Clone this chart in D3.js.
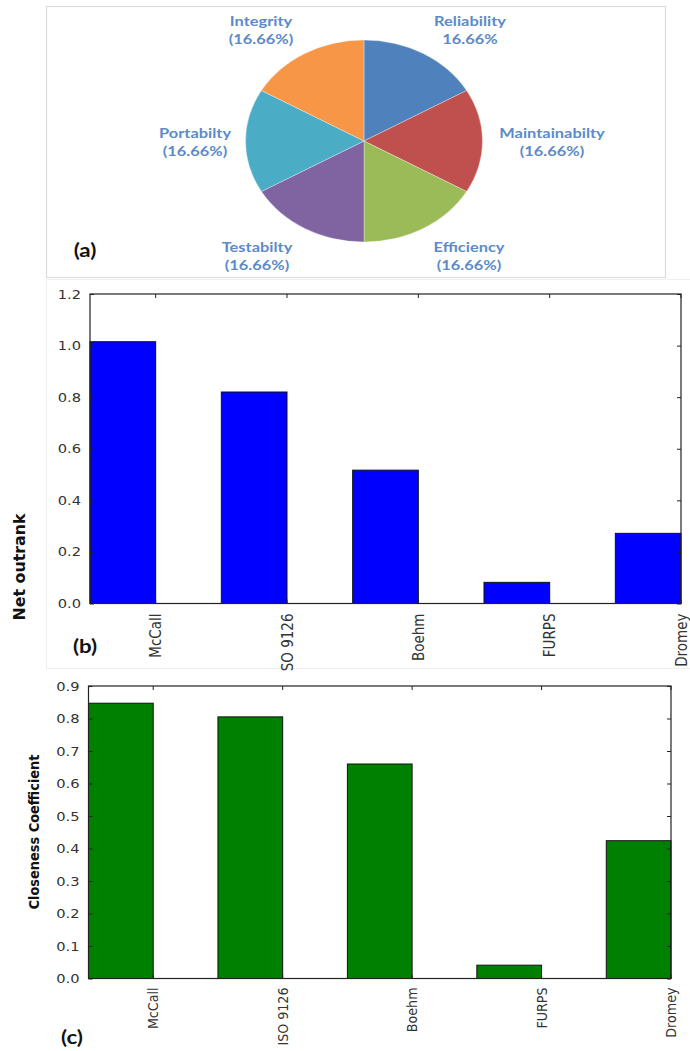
<!DOCTYPE html>
<html><head><meta charset="utf-8">
<script src="https://cdn.jsdelivr.net/npm/d3@7"></script>
<style>body{margin:0;background:#fff}</style>
</head><body><svg id="c" width="690" height="1051"></svg>
<script>
// ---------- data ----------
const pieCategories = ["Reliability","Maintainabilty","Efficiency","Testabilty","Portabilty","Integrity"];
const pieValues = [16.66,16.66,16.66,16.66,16.66,16.66];
const pieValueLabels = ["16.66%","(16.66%)","(16.66%)","(16.66%)","(16.66%)","(16.66%)"];
const pieColors = ["#4F81BD","#C0504D","#9BBB59","#8064A2","#4BACC6","#F79646"];

const netCategories = ["McCall","SO 9126","Boehm","FURPS","Dromey"];
const netOutrank = [1.015,0.82,0.517,0.082,0.272];
const netTicks = [0.0,0.2,0.4,0.6,0.8,1.0,1.2];

const ccCategories = ["McCall","ISO 9126","Boehm","FURPS","Dromey"];
const closeness = [0.847,0.805,0.66,0.041,0.424];
const ccTicks = [0.0,0.1,0.2,0.3,0.4,0.5,0.6,0.7,0.8,0.9];

// ---------- layout ----------
const SX = 1.173; // horizontal stretch of the original picture
const svg = d3.select("#c");

// panel frames
svg.append("rect").attr("x",46.5).attr("y",6.5).attr("width",619).attr("height",271)
  .attr("fill","none").attr("stroke","#dcdcdc").attr("stroke-width",1.2);
svg.append("rect").attr("x",46.5).attr("y",279.5).attr("width",700).attr("height",389)
  .attr("fill","none").attr("stroke","#efefef").attr("stroke-width",1);

// ---------- pie (a) ----------
const pieR = 101, pieCx = 364, pieCy = 141;
const pie = d3.pie().sort(null).value(d => d)(pieValues);
const arc = d3.arc().innerRadius(0).outerRadius(pieR);
const pg = svg.append("g").attr("transform",`translate(${pieCx},${pieCy}) scale(${SX},1)`);
pg.selectAll("path").data(pie).join("path")
  .attr("d",arc).attr("fill",(d,i)=>pieColors[i])
  .attr("stroke","#fff").attr("stroke-opacity",0.5).attr("stroke-width",0.6);

const labelOffsets = [[106,-111],[188,1],[105,115],[-107,115],[-169,1],[-103,-111]];
const lg = svg.append("g");
pie.forEach((d,i)=>{
  const [ox,oy] = labelOffsets[i];
  const t = lg.append("g").attr("transform",`translate(${pieCx+ox},${pieCy+oy}) scale(${SX},1)`);
  t.append("text").attr("y",-9).attr("dy","0.35em").attr("text-anchor","middle")
    .attr("font-family","Lato, 'Open Sans', sans-serif").attr("font-weight","bold")
    .attr("font-size",14).attr("fill","#5b8bc9").text(pieCategories[i]);
  t.append("text").attr("y",9.5).attr("dy","0.35em").attr("text-anchor","middle")
    .attr("font-family","Lato, 'Open Sans', sans-serif").attr("font-weight","bold")
    .attr("font-size",14).attr("fill","#5b8bc9").text(pieValueLabels[i]);
});

function tag(x,y,txt){
  svg.append("text").attr("transform",`translate(${x},${y}) scale(${SX},1)`)
    .attr("text-anchor","middle").attr("dy","0.35em")
    .attr("font-family","Lato, 'Open Sans', sans-serif").attr("font-weight","bold")
    .attr("font-size",19).attr("fill","#111").text(txt);
}
tag(85,250,"(a)");

// ---------- bar panels ----------
function barPanel(o){
  const x = d3.scaleBand().domain(o.cats).range([o.left,o.right]).paddingInner(0.5).paddingOuter(0).align(0);
  const y = d3.scaleLinear().domain([0,o.ticks[o.ticks.length-1]]).range([o.bottom,o.top]);
  const g = svg.append("g");
  const bw = x.bandwidth();

  g.selectAll("rect.bar").data(o.vals).join("rect").attr("class","bar")
    .attr("x",(d,i)=>x(o.cats[i])).attr("width",bw)
    .attr("y",d=>y(d)).attr("height",d=>y(0)-y(d))
    .attr("fill",o.color).attr("stroke","#111").attr("stroke-width",1);

  // left axis
  const la = g.append("g").attr("transform",`translate(${o.left},0)`)
    .call(d3.axisLeft(y).tickValues(o.ticks).tickFormat(d3.format(".1f")).tickSizeInner(-4).tickSizeOuter(0).tickPadding(9));
  la.select(".domain").remove();
  la.selectAll("line").attr("stroke","#222");
  la.selectAll("text").each(function(){
    const xx = +this.getAttribute("x");
    d3.select(this).attr("x",0).attr("transform",`translate(${xx},0) scale(${SX},1)`);
  }).attr("font-family","'DejaVu Sans', sans-serif").attr("font-size",o.tickSize).attr("fill","#333");

  // right axis ticks
  const ra = g.append("g").attr("transform",`translate(${o.right},0)`)
    .call(d3.axisRight(y).tickValues(o.ticks).tickSizeInner(-4).tickSizeOuter(0).tickFormat(""));
  ra.select(".domain").remove(); ra.selectAll("line").attr("stroke","#222");

  // top axis ticks (at right edge of each bar)
  const ta = g.append("g").attr("transform",`translate(${bw/2},${o.top})`)
    .call(d3.axisTop(x).tickSizeInner(-4).tickSizeOuter(0).tickFormat(""));
  ta.select(".domain").remove(); ta.selectAll("line").attr("stroke","#222");

  // bottom axis with rotated labels
  const ba = g.append("g").attr("transform",`translate(${bw/2},${o.bottom})`)
    .call(d3.axisBottom(x).tickSizeInner(-4).tickSizeOuter(0));
  ba.select(".domain").remove(); ba.selectAll("line").attr("stroke","#222");
  ba.selectAll("text").attr("y",0).attr("x",0).attr("dy","0.35em")
    .attr("text-anchor","end")
    .attr("transform",`translate(0,${o.labelGap}) rotate(-90) scale(1,${SX})`)
    .attr("font-family","'DejaVu Sans', sans-serif").attr("font-size",o.catSize).attr("fill","#333");

  // frame
  g.append("rect").attr("x",o.left).attr("y",o.top).attr("width",o.right-o.left).attr("height",o.bottom-o.top)
    .attr("fill","none").attr("stroke","#222").attr("stroke-width",1.2);

  // y label
  g.append("text").attr("transform",`translate(${o.ylx},${o.yly}) rotate(-90) scale(1,${SX})`)
    .attr("text-anchor","middle").attr("dy","0.35em")
    .attr("font-family","'DejaVu Sans', sans-serif").attr("font-weight","bold")
    .attr("font-size",o.ylSize).attr("textLength",o.ylLen).attr("lengthAdjust","spacingAndGlyphs")
    .attr("fill","#111").text(o.ylabel);

  tag(o.tagX,o.tagY,o.tag);
}

barPanel({cats:netCategories, vals:netOutrank, ticks:netTicks, color:"#0000ff",
  left:90, right:681, top:294, bottom:603.5, tickSize:12.5, catSize:13.5, labelGap:10,
  ylabel:"Net outrank", ylx:19, yly:567, ylSize:14, ylLen:107, tag:"(b)", tagX:85, tagY:646});

barPanel({cats:ccCategories, vals:closeness, ticks:ccTicks, color:"#008000",
  left:88.5, right:671, top:686, bottom:978.5, tickSize:12.5, catSize:12.7, labelGap:9,
  ylabel:"Closeness Coefficient", ylx:34, yly:832, ylSize:12.5, ylLen:155, tag:"(c)", tagX:72, tagY:1037});
</script>
</body></html>
